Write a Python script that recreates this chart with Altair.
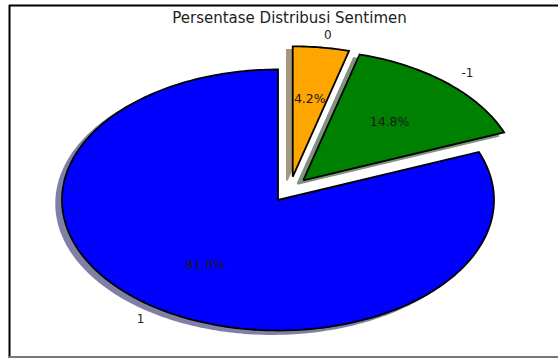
import numpy as np
import pandas as pd
import altair as alt

# ---- data ----
labels = ["0", "-1", "1"]
values = [4.2, 14.8, 81.0]
title_text = "Persentase Distribusi Sentimen"

# ---- style ----
colors = ["#FFA500", "#008000", "#0000FF"]
shadow_colors = ["#a69880", "#809380", "#8080a6"]
explode = [0.19, 0.19, 0.0]          # radial offset of each wedge
explode_dir = [69.0, 52.0, 0.0]      # direction of that offset (degrees)
SH = -0.027                          # shadow offset (unit-radius space)

# ---- geometry derived from the values (unit pie, stretched by the scales) ----
total = sum(values)
poly_rows, text_rows = [], []
start = 90.0
for i, (lab, v) in enumerate(zip(labels, values)):
    sweep = 360.0 * v / total
    end = start - sweep
    mid = np.radians((start + end) / 2)
    d = np.radians(explode_dir[i])
    ox, oy = explode[i] * np.cos(d), explode[i] * np.sin(d)
    n = max(int(sweep) + 2, 3)
    angs = np.radians(np.linspace(start, end, n))
    pts = [(ox, oy)] + [(ox + np.cos(a), oy + np.sin(a)) for a in angs] + [(ox, oy)]
    for k, (px, py) in enumerate(pts):
        poly_rows.append({"slice": lab, "k": k, "x": px, "y": py,
                          "sx": px + SH, "sy": py + SH})
    lx, ly = ox + 1.1 * np.cos(mid), oy + 1.1 * np.sin(mid)
    tx, ty = ox + 0.6 * np.cos(mid), oy + 0.6 * np.sin(mid)
    text_rows.append({"slice": lab, "lx": lx, "ly": ly, "tx": tx, "ty": ty,
                      "pct": f"{100*v/total:.1f}%",
                      "side": "right" if lx >= 0 else "left"})
    start = end

poly = pd.DataFrame(poly_rows)
texts = pd.DataFrame(text_rows)

W, H = 558, 358
cx, cy, rx, ry = 278.0, 200.0, 216.0, 130.5
xs = alt.Scale(domain=[-cx / rx, (W - cx) / rx], nice=False, zero=False)
ys = alt.Scale(domain=[-(H - cy) / ry, cy / ry], nice=False, zero=False)


def X(f):
    return alt.X(f"{f}:Q", scale=xs, axis=None)


def Y(f):
    return alt.Y(f"{f}:Q", scale=ys, axis=None)


shadow = alt.Chart(poly).mark_line(strokeWidth=1.8, strokeJoin="miter").encode(
    x=X("sx"), y=Y("sy"),
    fill=alt.Fill("slice:N", scale=alt.Scale(domain=labels, range=shadow_colors), legend=None),
    stroke=alt.Stroke("slice:N", scale=alt.Scale(domain=labels, range=shadow_colors), legend=None),
    order=alt.Order("k:Q"),
)

wedges = alt.Chart(poly).mark_line(stroke="black", strokeWidth=1.8, strokeJoin="miter").encode(
    x=X("x"), y=Y("y"),
    fill=alt.Fill("slice:N", scale=alt.Scale(domain=labels, range=colors), legend=None),
    detail="slice:N",
    order=alt.Order("k:Q"),
)

pct = alt.Chart(texts).mark_text(font="DejaVu Sans", fontSize=12.5, color="#1a1a1a",
                                 align="center", baseline="middle").encode(
    x=X("tx"), y=Y("ty"), text="pct:N")

lab_r = alt.Chart(texts).transform_filter(alt.datum.side == "right").mark_text(
    font="DejaVu Sans", fontSize=12, color="#222222", align="left", baseline="middle"
).encode(x=X("lx"), y=Y("ly"), text="slice:N")

lab_l = alt.Chart(texts).transform_filter(alt.datum.side == "left").mark_text(
    font="DejaVu Sans", fontSize=12, color="#222222", align="right", baseline="middle"
).encode(x=X("lx"), y=Y("ly"), text="slice:N")

title = alt.Chart(pd.DataFrame({"t": [title_text]})).mark_text(
    font="DejaVu Sans", fontSize=15, color="#222222", align="center", baseline="middle"
).encode(x=alt.value(289.5), y=alt.value(18), text="t:N")

one = pd.DataFrame({"a": [0]})
frame_top = alt.Chart(one).mark_rule(color="black", strokeWidth=2).encode(
    x=alt.value(9), x2=alt.value(W), y=alt.value(5.5))
frame_left = alt.Chart(one).mark_rule(color="black", strokeWidth=2).encode(
    x=alt.value(9.5), y=alt.value(5), y2=alt.value(H))
frame_bottom = alt.Chart(one).mark_rule(color="#777777", strokeWidth=2).encode(
    x=alt.value(9), x2=alt.value(W), y=alt.value(357))

chart = alt.layer(
    shadow, wedges, pct, lab_r, lab_l, title, frame_top, frame_left, frame_bottom
).resolve_scale(fill="independent", stroke="independent").properties(
    width=W, height=H, padding=0, autosize=alt.AutoSizeParams(type="none"),
    background="white",
).configure_view(stroke=None)

chart.save("out.html", embed_options={"renderer": "svg", "actions": False})
